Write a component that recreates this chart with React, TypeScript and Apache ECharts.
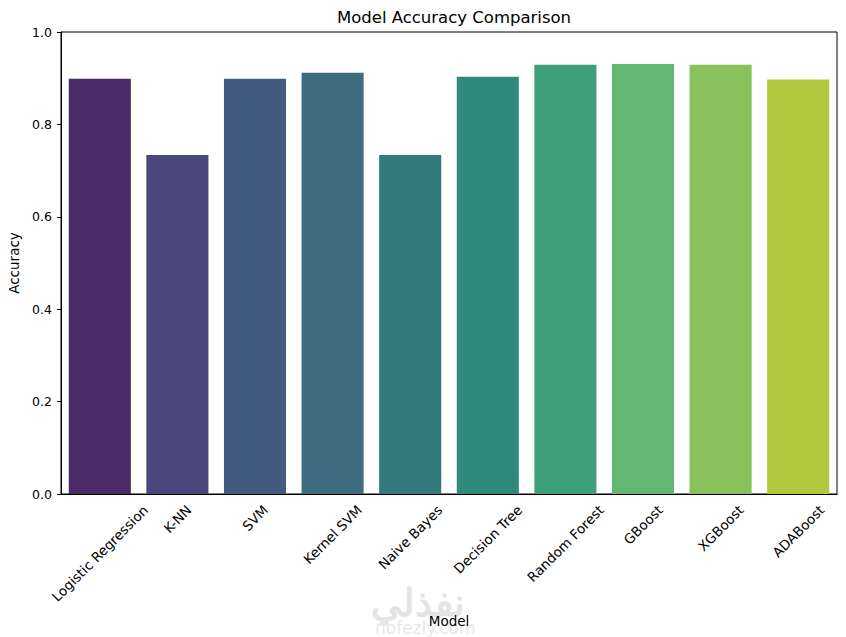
import React, { useEffect, useRef } from "react";
import * as echarts from "echarts";

const models = [
  "Logistic Regression",
  "K-NN",
  "SVM",
  "Kernel SVM",
  "Naive Bayes",
  "Decision Tree",
  "Random Forest",
  "GBoost",
  "XGBoost",
  "ADABoost",
];
const accuracy = [0.899, 0.734, 0.899, 0.912, 0.734, 0.903, 0.929, 0.931, 0.929, 0.897];
const yTicks = [0, 0.2, 0.4, 0.6, 0.8, 1.0];
const palette = [
  "#4b2b65",
  "#4a477a",
  "#445b80",
  "#3d6b80",
  "#337a7d",
  "#2f8a7c",
  "#3e9f7a",
  "#62b773",
  "#89c25d",
  "#b1c83e",
];

const FONT = "DejaVu Sans";
const XLABEL_SIZE = 13.5;

function measure(text: string, size: number): number {
  const c = document.createElement("canvas");
  const ctx = c.getContext("2d");
  if (!ctx) return text.length * size * 0.6;
  ctx.font = `${size}px '${FONT}'`;
  return ctx.measureText(text).width;
}

export default function App() {
  const ref = useRef<HTMLDivElement>(null);
  useEffect(() => {
    if (!ref.current) return;
    const chart = echarts.init(ref.current, undefined, { renderer: "svg" });
    const left = 61;
    const right = 9;
    const top = 32;
    const bottom = 143;
    const plotCenterX = left + (846 - left - right) / 2;

    chart.setOption({
      animation: false,
      backgroundColor: "#ffffff",
      textStyle: { fontFamily: FONT },
      title: {
        text: "Model Accuracy Comparison",
        left: plotCenterX,
        textAlign: "center",
        top: 4,
        textStyle: { fontFamily: FONT, fontSize: 16.5, fontWeight: "normal", color: "#000" },
      },
      grid: {
        left,
        right,
        top,
        bottom,
        outerBoundsMode: "none",
        containLabel: false,
        show: true,
        borderColor: "#000",
        borderWidth: 1,
        backgroundColor: "transparent",
      },
      xAxis: {
        type: "category",
        data: models,
        name: "Model",
        nameLocation: "middle",
        nameGap: 120,
        nameTextStyle: { fontFamily: FONT, fontSize: 13.5, color: "#000" },
        axisLine: { lineStyle: { color: "#000", width: 1 } },
        axisTick: { alignWithLabel: true, interval: 0, length: 4, lineStyle: { color: "#000" } },
        axisLabel: { show: false, interval: 0 },
        splitLine: { show: false },
      },
      yAxis: {
        type: "value",
        min: yTicks[0],
        max: yTicks[yTicks.length - 1],
        interval: 0.2,
        name: "Accuracy",
        nameLocation: "middle",
        nameGap: 40,
        nameTextStyle: { fontFamily: FONT, fontSize: 13.5, color: "#000" },
        axisLine: { show: true, lineStyle: { color: "#000", width: 1 } },
        axisTick: { show: true, length: 4, lineStyle: { color: "#000" } },
        axisLabel: {
          margin: 9,
          fontFamily: FONT,
          fontSize: 12.5,
          color: "#000",
          formatter: (v: number) => v.toFixed(1),
        },
        splitLine: { show: false },
      },
      series: [
        {
          type: "bar",
          barCategoryGap: "20%",
          data: accuracy.map((v, i) => ({ value: v, itemStyle: { color: palette[i] } })),
        },
      ],
    });

    const axisY = chart.convertToPixel({ yAxisIndex: 0 }, yTicks[0]) as number;
    const labelTop = axisY + 8;
    const labelEls = models.map((m, i) => {
      const px = chart.convertToPixel({ xAxisIndex: 0 }, m) as number;
      const w = measure(m, XLABEL_SIZE);
      const h = XLABEL_SIZE * 1.16;
      const cy = labelTop + 0.3536 * (w + h);
      return {
        type: "text",
        id: "xl" + i,
        x: px,
        y: cy,
        rotation: Math.PI / 4,
        style: {
          text: m,
          fontFamily: FONT,
          fontSize: XLABEL_SIZE,
          fill: "#000",
          align: "center",
          verticalAlign: "middle",
        },
      };
    });

    chart.setOption({
      graphic: [
        ...labelEls,
        {
          type: "text",
          id: "wm1",
          left: 371,
          top: 582,
          z: -1,
          style: {
            text: "نفذلي",
            fontFamily: "Noto Sans",
            fontSize: 38,
            lineHeight: 28,
            fontWeight: "bold",
            fill: "#e4e4e4",
          },
        },
        {
          type: "text",
          id: "wm2",
          left: 375,
          top: 619,
          z: -1,
          style: {
            text: "nofezly.com",
            fontFamily: FONT,
            fontSize: 17,
            lineHeight: 16,
            fill: "#e8e8e8",
          },
        },
      ],
    });
    return () => chart.dispose();
  }, []);
  return (
    <div
      ref={ref}
      style={{ position: "fixed", left: 0, top: 0, width: 846, height: 637 }}
    />
  );
}
